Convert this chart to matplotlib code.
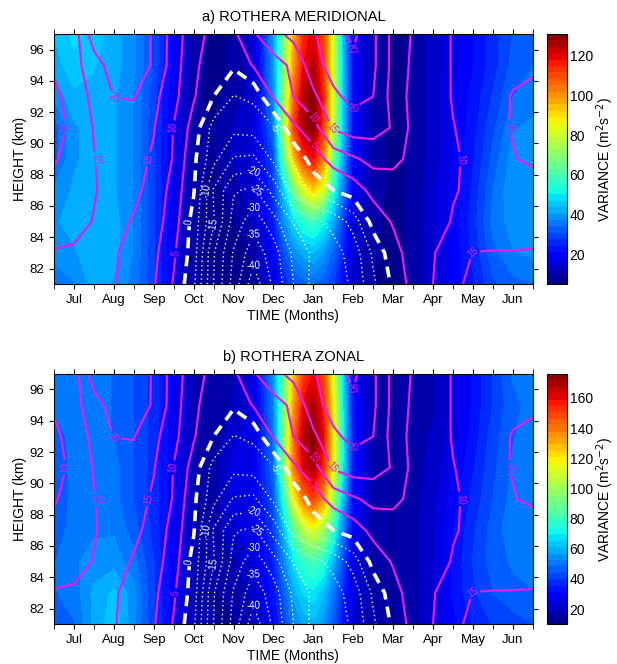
import numpy as np
import matplotlib
matplotlib.use("Agg")
import matplotlib.pyplot as plt

plt.rcParams.update({"font.family": ["Liberation Sans", "DejaVu Sans"], "font.size": 9})

MONTH_LABELS = ["Jul", "Aug", "Sep", "Oct", "Nov", "Dec", "Jan", "Feb", "Mar", "Apr", "May", "Jun"]
HEIGHTS = [81, 83, 85, 87, 89, 91, 93, 95, 97]

# zonal wind (m/s) on a half-month grid, one row per height
WIND_MONTHS = [0, 0.5, 1, 1.5, 2, 2.5, 3, 3.5, 4, 4.5, 5, 5.5, 6, 6.5, 7, 7.5, 8, 8.5, 9, 9.5,
               10, 10.5, 11, 11.5, 12]
WIND = [
    [17, 17, 17, 15.3, 13, 10.5, 4.5, -4, -20, -32, -43, -34, -25, -18.5, -16.5, -14.5, -6, 1, 7, 10, 14, 16, 17, 17, 17],
    [15.3, 15.6, 16.2, 15.6, 13, 11.2, 5.8, -2.5, -19.5, -30.5, -38, -32.5, -24, -19, -17, -13, -4, 3, 7.5, 9.7, 12.5, 15.1, 15.2, 15.2, 15.3],
    [13, 13.5, 15.2, 16.5, 14.6, 12.2, 7.5, -2, -14.5, -27, -33, -27, -19.8, -16.5, -13.5, -8, 2, 5.5, 7.5, 8.8, 10.2, 11.5, 12.5, 12.8, 13],
    [12, 13, 14.7, 16.5, 16, 13.5, 8, 0.5, -15.5, -24.5, -26, -18, -8, -3.5, 0, 2.5, 6.5, 8, 8.5, 9.3, 9.8, 10.5, 11, 11, 12],
    [9.3, 12.8, 14.8, 16.8, 17, 14.3, 9.6, 1.2, -8.5, -15.5, -16, -9, -4.5, 2.5, 7, 9.3, 11.5, 11, 9, 9, 9.7, 10.5, 11, 10.2, 9.3],
    [8.5, 11, 15.3, 17.8, 18.5, 15.3, 9.8, 3, -7, -8.5, -8, -5.5, 4, 8, 15.5, 17.5, 17, 14.6, 8.5, 8.7, 9.9, 10.8, 11, 9.8, 8.5],
    [9.2, 11.5, 16.5, 20.1, 20.2, 16.5, 11.5, 5.5, 0, -5.2, -4, 5.5, 10, 14, 19, 21.5, 20, 13, 8.5, 8.5, 10.2, 11, 11.2, 9.8, 9.2],
    [10.5, 13.5, 17.5, 22.5, 22.5, 19.5, 12.5, 5.8, 3, 0.8, 5.5, 8, 11, 18, 22, 24, 21, 13.5, 9, 8.5, 10.2, 11, 11.5, 10.8, 10.5],
    [12, 12.5, 23, 24, 23, 19.5, 12.7, 6.8, 3.6, 4, 9.5, 13.5, 16.5, 19.5, 23, 26, 21, 13.5, 9.5, 8.5, 10.2, 11, 11.5, 12, 12],
]

# variance (m^2 s^-2), one column per time step, heights 81..97 bottom to top
VAR_MONTHS = [0, 0.5, 1, 1.5, 2, 2.5, 3, 3.5, 4, 4.5, 5, 5.5, 5.75, 6, 6.25, 6.5, 6.75, 7, 7.25, 7.5,
              8, 8.5, 9, 9.5, 10, 10.5, 11, 11.5, 12]
VAR_MER_COLS = [
    [36, 38, 40, 38, 33, 32, 38, 42, 44],
    [37, 40, 42, 41, 40, 40, 43, 46, 48],
    [42, 43, 43, 42, 42, 42, 43, 44, 46],
    [40, 42, 42, 41, 41, 41, 41, 42, 42],
    [36, 37, 37, 37, 37, 37, 37, 38, 38],
    [28, 28, 28, 28, 28, 28, 29, 30, 30],
    [17, 17, 17, 18, 18, 18, 18, 19, 19],
    [9, 9, 9, 9, 9, 9, 9, 10, 10],
    [6, 6, 7, 7, 8, 8, 7, 7, 7],
    [6, 6, 8, 10, 12, 12, 10, 9, 9],
    [8, 9, 12, 14, 15, 15, 13, 13, 14],
    [16, 20, 24, 27, 30, 35, 38, 40, 40],
    [24, 30, 38, 45, 62, 72, 68, 66, 65],
    [30, 38, 48, 65, 92, 110, 105, 98, 95],
    [33, 42, 55, 82, 112, 127, 125, 118, 115],
    [34, 44, 58, 92, 118, 130, 130, 125, 120],
    [32, 40, 52, 82, 102, 112, 115, 112, 110],
    [28, 33, 42, 55, 65, 78, 80, 80, 80],
    [20, 24, 28, 35, 40, 45, 45, 44, 42],
    [13, 14, 15, 18, 19, 20, 20, 20, 20],
    [8, 9, 9, 10, 10, 10, 10, 10, 10],
    [7, 7, 7, 7, 7, 7, 7, 7, 7],
    [9, 9, 9, 9, 9, 9, 9, 9, 9],
    [14, 14, 14, 14, 13, 13, 13, 13, 13],
    [19, 19, 19, 19, 18, 18, 18, 17, 17],
    [24, 25, 26, 25, 24, 23, 22, 21, 21],
    [30, 33, 35, 34, 32, 30, 28, 26, 26],
    [33, 37, 39, 40, 39, 37, 34, 32, 31],
    [34, 38, 40, 40, 40, 38, 36, 34, 33],
]
VAR_ZON_COLS = [
    [46, 48, 48, 46, 44, 44, 46, 50, 52],
    [48, 50, 52, 50, 50, 50, 50, 52, 52],
    [58, 58, 54, 52, 52, 52, 50, 50, 50],
    [64, 62, 55, 52, 50, 50, 48, 48, 48],
    [54, 54, 50, 46, 44, 44, 44, 44, 44],
    [40, 40, 40, 38, 38, 38, 38, 38, 38],
    [28, 28, 28, 28, 28, 28, 28, 28, 28],
    [18, 18, 18, 18, 18, 18, 18, 18, 18],
    [14, 14, 15, 16, 16, 16, 15, 15, 15],
    [14, 15, 18, 22, 25, 25, 22, 19, 18],
    [18, 20, 24, 26, 27, 27, 25, 24, 25],
    [30, 33, 36, 40, 44, 48, 50, 52, 55],
    [40, 45, 52, 60, 75, 90, 92, 88, 85],
    [52, 58, 68, 85, 115, 138, 140, 132, 125],
    [58, 66, 78, 105, 140, 162, 168, 160, 150],
    [60, 68, 82, 112, 150, 170, 175, 170, 160],
    [55, 62, 76, 100, 135, 155, 160, 155, 148],
    [45, 50, 60, 78, 100, 115, 120, 118, 112],
    [32, 36, 42, 50, 60, 68, 70, 68, 65],
    [22, 24, 26, 28, 30, 32, 33, 32, 30],
    [16, 16, 16, 16, 17, 17, 17, 17, 17],
    [14, 14, 14, 14, 14, 14, 14, 14, 14],
    [17, 17, 17, 17, 17, 17, 17, 17, 16],
    [22, 22, 22, 22, 21, 20, 19, 18, 18],
    [30, 32, 32, 31, 29, 27, 25, 24, 24],
    [36, 39, 40, 39, 37, 35, 33, 32, 32],
    [40, 44, 46, 46, 44, 43, 42, 40, 40],
    [42, 47, 49, 51, 50, 49, 48, 47, 49],
    [44, 48, 50, 52, 52, 51, 50, 50, 52],
]

PANELS = [
    ("a) ROTHERA MERIDIONAL", VAR_MER_COLS, (5, 131), [20, 40, 60, 80, 100, 120]),
    ("b) ROTHERA ZONAL", VAR_ZON_COLS, (10, 176), [20, 40, 60, 80, 100, 120, 140, 160]),
]
MAGENTA = "#E41EE4"


def draw_panel(ax, cax, title, var_cols, vrange, cticks):
    var = np.array(var_cols, float).T
    levels = np.linspace(vrange[0], vrange[1], 40)
    cf = ax.contourf(VAR_MONTHS, HEIGHTS, var, levels=levels, cmap="jet")

    wind = np.array(WIND, float)
    pos = ax.contour(WIND_MONTHS, HEIGHTS, wind, levels=[5, 10, 15, 20, 25], colors=MAGENTA, linewidths=1.6)
    neg = ax.contour(WIND_MONTHS, HEIGHTS, wind, levels=np.arange(-40, -4, 5), colors="white",
                     linewidths=1.0, linestyles=[(0, (1, 2.2))])
    zero = ax.contour(WIND_MONTHS, HEIGHTS, wind, levels=[0], colors="white", linewidths=2.6,
                      linestyles=[(0, (3, 2))])
    for cs in (pos, neg, zero):
        ax.clabel(cs, fmt="%d", fontsize=7, inline=True, inline_spacing=2)

    ax.set_xlim(0, 12)
    ax.set_ylim(81, 97)
    ax.set_xticks([i + 0.5 for i in range(12)])
    ax.set_xticklabels(MONTH_LABELS)
    ax.set_xticks(range(13), minor=True)
    ax.set_yticks(range(82, 97, 2))
    ax.tick_params(which="both", direction="out", top=True, right=True, length=3.5, labelsize=9.5)
    ax.set_xlabel("TIME (Months)", fontsize=10, labelpad=2)
    ax.set_ylabel("HEIGHT (km)", fontsize=10, labelpad=2)
    ax.set_title(title, fontsize=10.5, pad=9)

    cb = plt.colorbar(cf, cax=cax, ticks=cticks)
    cb.ax.tick_params(length=0, labelsize=10, pad=2)
    cb.set_label("VARIANCE (m$^2$s$^{-2}$)", fontsize=10, labelpad=1)
    cb.outline.set_linewidth(0.8)


fig = plt.figure(figsize=(6.17, 6.64), dpi=100)
for i, (title, cols, vr, ct) in enumerate(PANELS):
    bottom = 0.572 if i == 0 else 0.060
    ax = fig.add_axes([0.0875, bottom, 0.776, 0.377])
    cax = fig.add_axes([0.8865, bottom, 0.0324, 0.377])
    draw_panel(ax, cax, title, cols, vr, ct)

fig.savefig("out.png", dpi=100)
